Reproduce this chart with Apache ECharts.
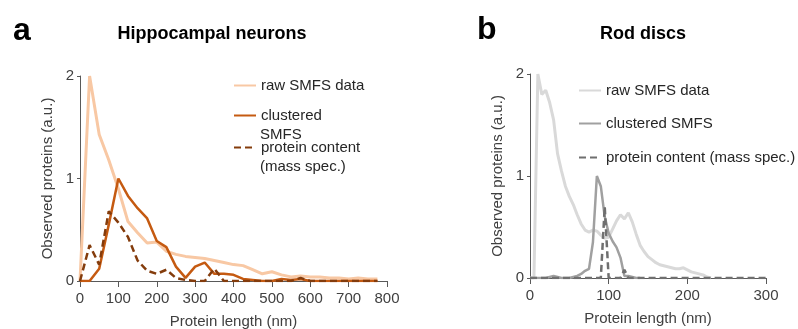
<!DOCTYPE html>
<html>
<head>
<meta charset="utf-8">
<script src="https://cdn.jsdelivr.net/npm/echarts@6/dist/echarts.min.js"></script>
<style>
  html, body { margin: 0; padding: 0; background: #fff; }
  #chart { width: 798px; height: 329px; }
</style>
</head>
<body>
<div id="chart"></div>
<script>
// panel a: Hippocampal neurons (25 nm bins)
const lengthA = [0, 25, 50, 75, 100, 125, 150, 175, 200, 225, 250, 275, 300, 325, 350, 375,
  400, 425, 450, 475, 500, 525, 550, 575, 600, 625, 650, 675, 700, 725, 750, 775]
const rawA = [0, 2.0, 1.43, 1.18, 0.9, 0.58, 0.47, 0.37, 0.38, 0.29, 0.26, 0.24, 0.23, 0.22, 0.2, 0.18,
  0.16, 0.15, 0.11, 0.07, 0.09, 0.06, 0.04, 0.05, 0.04, 0.04, 0.03, 0.03, 0.02, 0.03, 0.02, 0.02]
const clusteredA = [0, 0, 0.12, 0.55, 1.0, 0.83, 0.71, 0.61, 0.39, 0.33, 0.14, 0.03, 0.14, 0.18, 0.07, 0.07,
  0.06, 0.02, 0.01, 0, 0, 0.02, 0.01, 0.02, 0, 0, 0, 0, 0, 0, 0, 0]
const massA = [0, 0.35, 0.16, 0.68, 0.57, 0.43, 0.2, 0.1, 0.07, 0.11, 0.03, 0.01, 0, 0, 0.12, 0,
  0, 0, 0, 0, 0, 0, 0, 0.03, 0, 0, 0, 0, 0, 0, 0, 0]

// panel b: Rod discs (5 nm bins)
const lengthB = [0, 5, 10, 15, 20, 25, 30, 35, 40, 45, 50, 55, 60, 65, 70, 75, 80, 85, 90, 95,
  100, 105, 110, 115, 120, 125, 130, 135, 140, 145, 150, 155, 160, 165, 170, 175, 180, 185, 190, 195,
  200, 205, 210, 215, 220, 225, 230, 235, 240, 245, 250, 255, 260, 265, 270, 275, 280, 285, 290, 295, 300]
const rawB = [0, 0, 2.0, 1.8, 1.84, 1.72, 1.55, 1.22, 1.05, 0.9, 0.8, 0.72, 0.62, 0.53, 0.47, 0.45, 0.47, 0.46, 0.42, 0.39,
  0.4, 0.48, 0.56, 0.62, 0.58, 0.64, 0.55, 0.43, 0.32, 0.26, 0.21, 0.18, 0.15, 0.13, 0.12, 0.11, 0.1, 0.09, 0.09, 0.1,
  0.08, 0.06, 0.05, 0.04, 0.03, 0.01, 0, null, null, null, null, null, null, null, null, null, null, null, null, null, null]
const clusteredB = [0, 0, 0, 0, 0, 0.01, 0.02, 0.01, 0, 0, 0, 0.01, 0.02, 0.04, 0.07, 0.09, 0.35, 1.0, 0.9, 0.6,
  0.44, 0.36, 0.3, 0.2, 0.02, 0.02, 0.01, 0, 0, null, null, null, null, null, null, null, null, null, null, null,
  null, null, null, null, null, null, null, null, null, null, null, null, null, null, null, null, null, null, null, null, null]
const massB = [0, 0, 0, 0, 0, 0, 0, 0, 0, 0, 0, 0, 0, 0, 0, 0, 0, 0, 0, 0.7,
  0, 0, 0, 0, 0.08, 0, 0, 0, 0, 0, 0, 0, 0, 0, 0, 0, 0, 0, 0, 0,
  0, 0, 0, 0, 0, 0, 0, 0, 0, 0, 0, 0, 0, 0, 0, 0, 0, 0, 0, 0, 0]

const yTicks = [0, 1, 2]

const FONT = 'Liberation Sans, Arial, sans-serif'
const AXIS_COLOR = '#595959'
const TEXT_COLOR = '#404040'

const legendText = {
  rawA: 'raw SMFS data',
  clusteredA: 'clustered',
  massA: 'protein content',
  rawB: 'raw SMFS data',
  clusteredB: 'clustered SMFS',
  massB: 'protein content (mass spec.)',
}

const pairs = (xs, ys) => xs.map((x, i) => [x, ys[i]])

const xAxisBase = (gridIndex, max) => ({
  type: 'value',
  gridIndex,
  min: 0,
  max,
  interval: 100,
  name: 'Protein length (nm)',
  nameLocation: 'middle',
  nameGap: 33,
  nameTextStyle: { fontFamily: FONT, fontSize: 15, color: TEXT_COLOR },
  axisLine: { show: true, lineStyle: { color: AXIS_COLOR, width: 1 } },
  axisTick: { show: true, length: 6, lineStyle: { color: AXIS_COLOR } },
  axisLabel: { fontFamily: FONT, fontSize: 15, color: TEXT_COLOR, margin: 10 },
  splitLine: { show: false },
})

const yAxisBase = gridIndex => ({
  type: 'value',
  gridIndex,
  min: yTicks[0],
  max: yTicks[yTicks.length - 1],
  interval: 1,
  name: 'Observed proteins (a.u.)',
  nameLocation: 'middle',
  nameGap: 25,
  nameTextStyle: { fontFamily: FONT, fontSize: 15, color: TEXT_COLOR },
  axisLine: { show: true, lineStyle: { color: AXIS_COLOR, width: 1 } },
  axisTick: { show: true, length: 3, lineStyle: { color: AXIS_COLOR } },
  axisLabel: { fontFamily: FONT, fontSize: 15, color: TEXT_COLOR, margin: 6 },
  splitLine: { show: false },
})

const lineSeries = (name, axisIndex, data, color, width, dashed) => ({
  name,
  type: 'line',
  xAxisIndex: axisIndex,
  yAxisIndex: axisIndex,
  data,
  symbol: 'none',
  connectNulls: false,
  lineStyle: { color, width, type: dashed ? [7, 4] : 'solid' },
  itemStyle: { color },
  animation: false,
})

const legendAt = (name, left, centerY) => ({
  data: [name],
  left,
  top: centerY - 9,
  orient: 'vertical',
  itemWidth: 22,
  itemHeight: 14,
  itemGap: 0,
  padding: 0,
  selectedMode: false,
  itemStyle: { opacity: 0 },
  formatter: n => legendText[n],
  textStyle: { fontFamily: FONT, fontSize: 15, color: '#262626' },
})

const chart = echarts.init(document.getElementById('chart'))

const option = {
  backgroundColor: '#fff',
  animation: false,
  title: [
    { text: 'a', left: 8, top: 10, textStyle: { fontFamily: FONT, fontSize: 32, fontWeight: 'bold', color: '#000' } },
    { text: 'Hippocampal neurons', left: 207, top: 20, textAlign: 'center', textStyle: { fontFamily: FONT, fontSize: 18, fontWeight: 'bold', color: '#000' } },
    { text: 'b', left: 472, top: 9, textStyle: { fontFamily: FONT, fontSize: 32, fontWeight: 'bold', color: '#000' } },
    { text: 'Rod discs', left: 638, top: 20, textAlign: 'center', textStyle: { fontFamily: FONT, fontSize: 18, fontWeight: 'bold', color: '#000' } },
  ],
  grid: [
    { left: 80, top: 76, width: 307, height: 205, containLabel: false, outerBoundsMode: 'none' },
    { left: 530, top: 74, width: 236, height: 204, containLabel: false, outerBoundsMode: 'none' },
  ],
  xAxis: [xAxisBase(0, 800), xAxisBase(1, 300)],
  yAxis: [yAxisBase(0), yAxisBase(1)],
  legend: [
    legendAt('rawA', 233, 87),
    legendAt('clusteredA', 233, 117),
    legendAt('massA', 233, 149),
    legendAt('rawB', 578, 92),
    legendAt('clusteredB', 578, 125),
    legendAt('massB', 578, 159),
  ],
  graphic: [
    { type: 'text', left: 260, top: 127, style: { text: 'SMFS', font: '15px ' + FONT, fill: '#262626' } },
    { type: 'text', left: 260, top: 159, style: { text: '(mass spec.)', font: '15px ' + FONT, fill: '#262626' } },
  ],
  series: [
    lineSeries('rawA', 0, pairs(lengthA, rawA), '#f8c8a4', 3, false),
    lineSeries('clusteredA', 0, pairs(lengthA, clusteredA), '#c55a11', 2.5, false),
    lineSeries('massA', 0, pairs(lengthA, massA), '#843c0c', 2.5, true),
    lineSeries('rawB', 1, pairs(lengthB, rawB), '#d9d9d9', 3, false),
    lineSeries('clusteredB', 1, pairs(lengthB, clusteredB), '#a0a0a0', 2.5, false),
    lineSeries('massB', 1, pairs(lengthB, massB), '#6f6f6f', 2.5, true),
  ],
}

chart.setOption(option)
</script>
</body>
</html>
